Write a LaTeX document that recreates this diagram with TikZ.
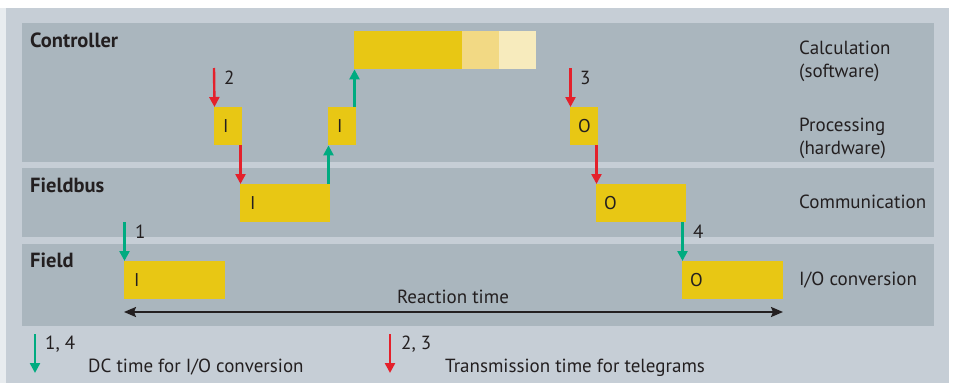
\documentclass[tikz,border=0pt]{standalone}
\usepackage{fontspec}
\setmainfont{PT Sans}
\usetikzlibrary{arrows.meta}
\definecolor{outerbg}{HTML}{C6CED6}
\definecolor{stripbg}{HTML}{E8ECEF}
\definecolor{bandbg}{HTML}{AAB6BE}
\definecolor{ybar}{HTML}{E8C714}
\definecolor{ybarB}{HTML}{F2D984}
\definecolor{ybarC}{HTML}{F7EBBD}
\definecolor{gr}{HTML}{00AB80}
\definecolor{rd}{HTML}{E4202B}
\definecolor{txt}{HTML}{231F20}
\tikzset{
  x=1pt, y=-1pt,
  ybox/.style={fill=ybar, draw=none, anchor=north west, minimum height=38pt, inner xsep=9pt, inner ysep=0pt, align=left, font=\fontsize{18.5}{20}\selectfont, text=txt},
  garrow/.style={draw=gr, line width=2.4pt, -{Triangle[width=10pt,length=10pt]}},
  rarrow/.style={draw=rd, line width=2.4pt, -{Triangle[width=10pt,length=10pt]}},
  lbl/.style={anchor=base west, inner sep=0pt, font=\fontsize{19}{23}\selectfont, text=txt},
  blbl/.style={anchor=base west, inner sep=0pt, font=\fontsize{20.5}{23}\selectfont\bfseries, text=txt},
}
\begin{document}
\begin{tikzpicture}
\useasboundingbox (0,0) rectangle (954,383);
\fill[white] (0,0) rectangle (954,383);
\fill[stripbg] (0,8) rectangle (6,383);
\fill[outerbg] (6,8) rectangle (949,383);
\fill[bandbg] (22,23) rectangle (934,162);
\fill[bandbg] (22,168) rectangle (934,237);
\fill[bandbg] (22,244) rectangle (934,326);

% band titles
\node[blbl] (tctrl) at (30,47) {Controller};
\node[blbl] (tfb) at (30,192) {Fieldbus};
\node[blbl] (tfld) at (30,267) {Field};

% right labels
\node[lbl] (rcalc) at (799,54) {Calculation};
\node[lbl] (rsw) at (799,77) {(software)};
\node[lbl] (rproc) at (799,131) {Processing};
\node[lbl] (rhw) at (799,154) {(hardware)};
\node[lbl] (rcomm) at (799,208) {Communication};
\node[lbl] (rio) at (799,285) {I/O conversion};

% calculation bar
\node[ybox, minimum width=108pt] (calcA) at (354,31) {};
\node[ybox, fill=ybarB, minimum width=37pt] (calcB) at (462,31) {};
\node[ybox, fill=ybarC, minimum width=37pt] (calcC) at (499,31) {};

% processing boxes
\node[ybox, text width=10pt, minimum width=28pt] (p1) at (214,107) {I};
\node[ybox, text width=10pt, minimum width=28pt] (p2) at (328,107) {I};
\node[ybox, text width=12pt, minimum width=28pt, inner xsep=8pt] (p3) at (570,107) {O};

% fieldbus boxes
\node[ybox, text width=70pt, minimum width=90pt, inner xsep=10pt] (fbI) at (240,184) {I};
\node[ybox, text width=74pt, minimum width=90pt, inner xsep=8pt] (fbO) at (596,184) {O};

% field boxes
\node[ybox, text width=81pt, minimum width=101pt, inner xsep=10pt] (fI) at (124,261) {I};
\node[ybox, text width=85pt, minimum width=101pt, inner xsep=8pt] (fO) at (682,261) {O};

% arrows with numbers
\coordinate (s2) at (214,68);
\coordinate (s3) at (570,68);
\coordinate (s1) at (124.5,222);
\draw[rarrow] (s2) -- ([xshift=0.5pt]p1.north west);
\node[lbl] (n2) at (224,84) {2};
\draw[rarrow] ([xshift=0.5pt]p3.north west |- s3) -- ([xshift=0.5pt]p3.north west);
\node[lbl] (n3) at (580,84) {3};
\draw[garrow] (s1) -- ([xshift=0.5pt]fI.north west);
\node[lbl] (n1) at (135,238) {1};

\draw[rarrow] ([xshift=0.5pt]fbI.north west |- p1.south) -- ([xshift=0.5pt]fbI.north west);
\draw[garrow] ([xshift=0.5pt]p2.south west |- fbI.north) -- ([xshift=0.5pt]p2.south west);
\draw[garrow] ([xshift=0.5pt]calcA.south west |- p2.north) -- ([xshift=0.5pt]calcA.south west);
\draw[rarrow] ([xshift=0.5pt]fbO.north west |- p3.south) -- ([xshift=0.5pt]fbO.north west);
\draw[garrow] ([xshift=0.5pt]fO.north west |- fbO.south) -- ([xshift=0.5pt]fO.north west);
\node[lbl] (n4) at (693,238) {4};

% reaction time
\coordinate (ra) at (124,312);
\coordinate (rb) at (783,312);
\draw[draw=txt, line width=2pt, {Stealth[length=12pt,width=10pt,inset=2pt]}-{Stealth[length=12pt,width=10pt,inset=2pt]}] (ra) -- (rb);
\node[lbl, anchor=base] (rtime) at (453,303) {Reaction time};

% legend
\coordinate (lg1) at (35,334);
\coordinate (lg2) at (35,373);
\draw[garrow] (lg1) -- (lg2);
\node[lbl] (l14) at (45,349) {1, 4};
\node[lbl] (ldc) at (88,372) {DC time for I/O conversion};
\coordinate (lr1) at (390,334);
\coordinate (lr2) at (390,373);
\draw[rarrow] (lr1) -- (lr2);
\node[lbl] (l23) at (401,349) {2, 3};
\node[lbl] (ltr) at (445,372) {Transmission time for telegrams};
\end{tikzpicture}
\end{document}
